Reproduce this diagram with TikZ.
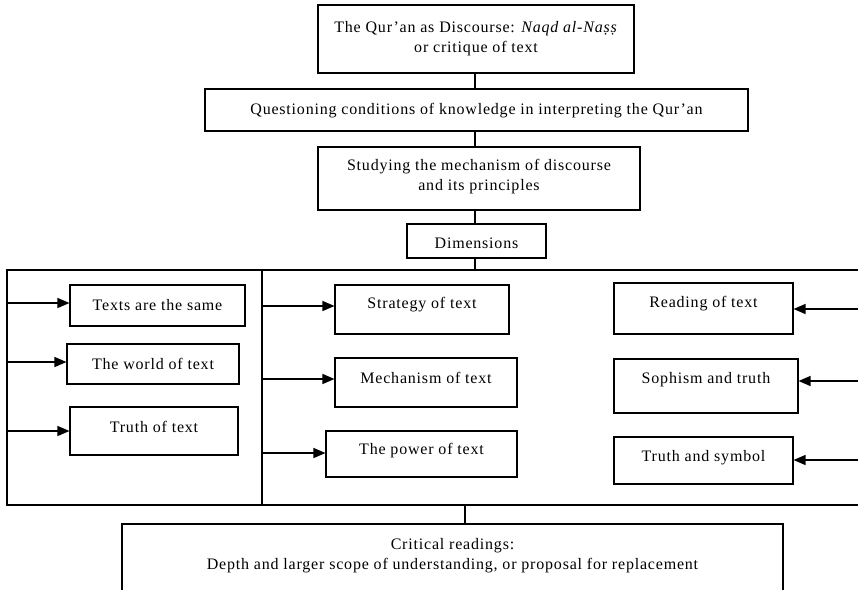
\documentclass[tikz,border=0pt]{standalone}
\usepackage{fontspec}
\setmainfont[LetterSpace=5]{Liberation Serif}
\usetikzlibrary{arrows.meta}
\begin{document}
\begin{tikzpicture}[x=1pt,y=-1pt,
 bx/.style={draw, line width=1.1pt, inner sep=0pt},
 lbl/.style={inner sep=0pt, align=center, yshift=-2pt, font=\fontsize{16}{20}\selectfont},
 ln/.style={line width=1.1pt},
 arr/.style={line width=1.3pt, -{Triangle[length=12pt,width=10pt]}}]
\useasboundingbox (0,0) rectangle (858,589);
\clip (0,0) rectangle (858,589);
% top column
\node[bx, minimum width=316pt, minimum height=68pt] (top) at (476,39) {};
\node[lbl] (ttop) at (476,37) {The Qur’an as Discourse: \textit{Naqd al-Naṣṣ}\\or critique of text};
\node[bx, minimum width=543pt, minimum height=42pt] (q) at (476.5,110) {};
\node[lbl] (tq) at (476.5,109) {Questioning conditions of knowledge in interpreting the Qur’an};
\node[bx, minimum width=322pt, minimum height=63pt] (s) at (479,178.5) {};
\node[lbl] (ts) at (479,175) {Studying the mechanism of discourse\\and its principles};
\node[bx, minimum width=139pt, minimum height=34pt] (d) at (476.5,241) {};
\node[lbl] (td) at (476.5,241) {Dimensions};
\coordinate (c0) at (475,73);
\draw[ln] (c0) -- (c0 |- q.north);
\coordinate (c1) at (475,131);
\draw[ln] (c1) -- (c1 |- s.north);
\coordinate (c2) at (475,210);
\draw[ln] (c2) -- (c2 |- d.north);
% frame
\coordinate (ftl) at (7,270);
\coordinate (ftr) at (858,270);
\coordinate (fbl) at (7,505);
\coordinate (fbr) at (858,505);
\coordinate (dvt) at (262,270);
\coordinate (dvb) at (262,505);
\coordinate (c3) at (475,258);
\draw[ln] (c3) -- (c3 |- ftl);
\draw[ln] (ftr) -- (ftl) -- (fbl) -- (fbr);
\draw[ln] (dvt) -- (dvb);
% left column
\node[bx, minimum width=175pt, minimum height=41pt] (l1) at (157.5,305.5) {};
\node[lbl] (tl1) at (157.5,303) {Texts are the same};
\node[bx, minimum width=172pt, minimum height=40pt] (l2) at (153,364) {};
\node[lbl] (tl2) at (153,362) {The world of text};
\node[bx, minimum width=168pt, minimum height=48pt] (l3) at (154,431) {};
\node[lbl] (tl3) at (154,425) {Truth of text};
\coordinate (a1) at (7,303);
\coordinate (a2) at (7,362);
\coordinate (a3) at (7,431);
\draw[arr] (a1) -- (a1 -| l1.west);
\draw[arr] (a2) -- (a2 -| l2.west);
\draw[arr] (a3) -- (a3 -| l3.west);
% middle column
\node[bx, minimum width=174pt, minimum height=49pt] (m1) at (422,309.5) {};
\node[lbl] (tm1) at (422,303) {Strategy of text};
\node[bx, minimum width=182pt, minimum height=49pt] (m2) at (426,382.5) {};
\node[lbl] (tm2) at (426,376) {Mechanism of text};
\node[bx, minimum width=191pt, minimum height=46pt] (m3) at (421.5,454) {};
\node[lbl] (tm3) at (421.5,449) {The power of text};
\coordinate (b1) at (262,306);
\coordinate (b2) at (262,379);
\coordinate (b3) at (262,453);
\draw[arr] (b1) -- (b1 -| m1.west);
\draw[arr] (b2) -- (b2 -| m2.west);
\draw[arr] (b3) -- (b3 -| m3.west);
% right column
\node[bx, minimum width=179pt, minimum height=51pt] (r1) at (703.5,308.5) {};
\node[lbl] (tr1) at (703.5,302) {Reading of text};
\node[bx, minimum width=184pt, minimum height=54pt] (r2) at (706,386) {};
\node[lbl] (tr2) at (706,378) {Sophism and truth};
\node[bx, minimum width=179pt, minimum height=47pt] (r3) at (703.5,460.5) {};
\node[lbl] (tr3) at (703.5,456) {Truth and symbol};
\coordinate (e1) at (858,309);
\coordinate (e2) at (858,381);
\coordinate (e3) at (858,460);
\draw[arr] (e1) -- (e1 -| r1.east);
\draw[arr] (e2) -- (e2 -| r2.east);
\draw[arr] (e3) -- (e3 -| r3.east);
% bottom
\node[bx, minimum width=661pt, minimum height=96pt] (bot) at (452.5,572) {};
\node[lbl] (tbot) at (452.5,554) {Critical readings:\\Depth and larger scope of understanding, or proposal for replacement};
\coordinate (c4) at (465,505);
\draw[ln] (c4) -- (c4 |- bot.north);
\end{tikzpicture}
\end{document}
